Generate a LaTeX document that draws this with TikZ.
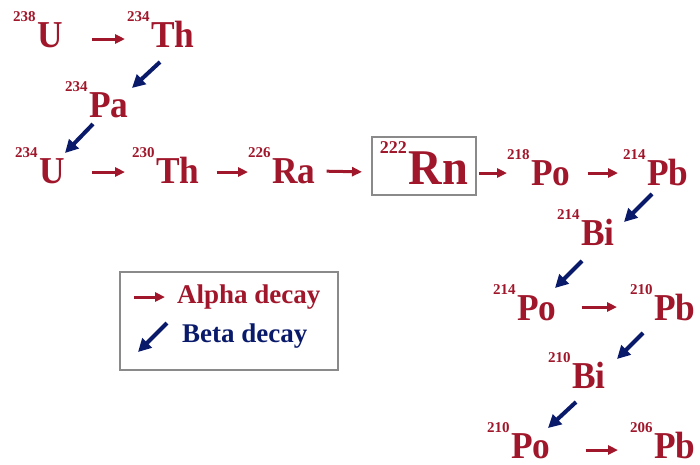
\documentclass[tikz,border=0pt]{standalone}
\usepackage{fontspec}
\setmainfont{Liberation Serif}
\newfontfamily\elfont{Liberation Serif}[FakeStretch=0.93]
\usetikzlibrary{arrows.meta}
\usepackage{xcolor}
\definecolor{alphared}{HTML}{A0172B}
\definecolor{betablue}{HTML}{0A1A6B}
\definecolor{boxgray}{HTML}{8A8A8A}
\newcommand{\nuc}[2]{\raisebox{26pt}{\rmfamily\fontsize{15}{15}\selectfont\bfseries #1}\kern1.5pt#2}

\begin{document}
\begin{tikzpicture}[
  x=1pt, y=-1pt,
  iso/.style={anchor=base west, inner sep=0pt, text=alphared,
              font=\elfont\fontsize{38}{38}\selectfont\bfseries},
  adecay/.style={-{Triangle[length=10pt, width=9pt]}, line width=3pt, draw=alphared},
  bdecay/.style={-{Triangle[length=13pt, width=13pt]}, line width=4pt, draw=betablue},
  legbox/.style={draw=boxgray, line width=1.5pt, minimum width=218pt,
                 minimum height=98pt, inner sep=0pt},
  legtxt/.style={anchor=base west, inner sep=0pt,
                 font=\fontsize{27}{27}\selectfont\bfseries},
]
\useasboundingbox (0,0) rectangle (700,464);

\node[iso] (u238) at (13,47) {\nuc{238}{U}};
\node[iso] (th234) at (127,47) {\nuc{234}{Th}};
\node[iso] (pa234) at (65,117) {\nuc{234}{Pa}};
\node[iso] (u234) at (15,183) {\nuc{234}{U}};
\node[iso] (th230) at (132,183) {\nuc{230}{Th}};
\node[iso] (ra226) at (248,183) {\nuc{226}{Ra}};
\node[iso, draw=boxgray, line width=1.5pt, inner xsep=8pt, inner ysep=5pt,
      text height=42pt, text depth=6pt] (rn222) at (371,184)
  {\fontsize{50}{50}\selectfont\raisebox{31pt}{\rmfamily\fontsize{18}{18}\selectfont\bfseries 222}\kern2pt Rn};
\node[iso] (po218) at (507,185) {\nuc{218}{Po}};
\node[iso] (pb214) at (623,185) {\nuc{214}{Pb}};
\node[iso] (bi214) at (557,245) {\nuc{214}{Bi}};
\node[iso] (po214) at (493,320) {\nuc{214}{Po}};
\node[iso] (pb210) at (630,320) {\nuc{210}{Pb}};
\node[iso] (bi210) at (548,388) {\nuc{210}{Bi}};
\node[iso] (po210) at (487,458) {\nuc{210}{Po}};
\node[iso] (pb206) at (630,458) {\nuc{206}{Pb}};

% alpha steps
\foreach \a/\b/\s/\e/\h in {u238/th234/29/2/8, u234/th230/27/7/11,
    th230/ra226/17/0/11, ra226/rn222/11/9/12, po218/pb214/17/5/12,
    po214/pb210/25/13/13, po210/pb206/35/12/8}
  \draw[adecay, shorten <=\s pt, shorten >=\e pt]
    ([shift={(0,-\h)}]\a.base east) -- ([shift={(0,-\h)}]\b.base west);
\draw[adecay, shorten <=2pt] ([shift={(0,-11)}]rn222.base east)
  -- ([shift={(0,-12)}]po218.base west);

% beta steps
\draw[bdecay] ([shift={(33,15)}]th234.base west) -- ([shift={(67,-29)}]pa234.base west);
\draw[bdecay] ([shift={(28,7)}]pa234.base west) -- ([shift={(50,-30)}]u234.base west);
\draw[bdecay] ([shift={(29,9)}]pb214.base west) -- ([shift={(67,-23)}]bi214.base west);
\draw[bdecay] ([shift={(25,16)}]bi214.base west) -- ([shift={(62,-32)}]po214.base west);
\draw[bdecay] ([shift={(13,13)}]pb210.base west) -- ([shift={(69,-29)}]bi210.base west);
\draw[bdecay] ([shift={(28,14)}]bi210.base west) -- ([shift={(61,-30)}]po210.base west);

% legend
\node[legbox] (leg) at (229,321) {};
\node[legtxt, text=alphared] (alab) at (177,303) {Alpha decay};
\node[legtxt, text=betablue] (blab) at (182,342) {Beta decay};
\draw[adecay] ([shift={(-43,-6)}]alab.base west) -- ([shift={(-12,-6)}]alab.base west);
\draw[bdecay] ([shift={(-15,-19)}]blab.base west) -- ([shift={(-44,10)}]blab.base west);

\end{tikzpicture}
\end{document}
